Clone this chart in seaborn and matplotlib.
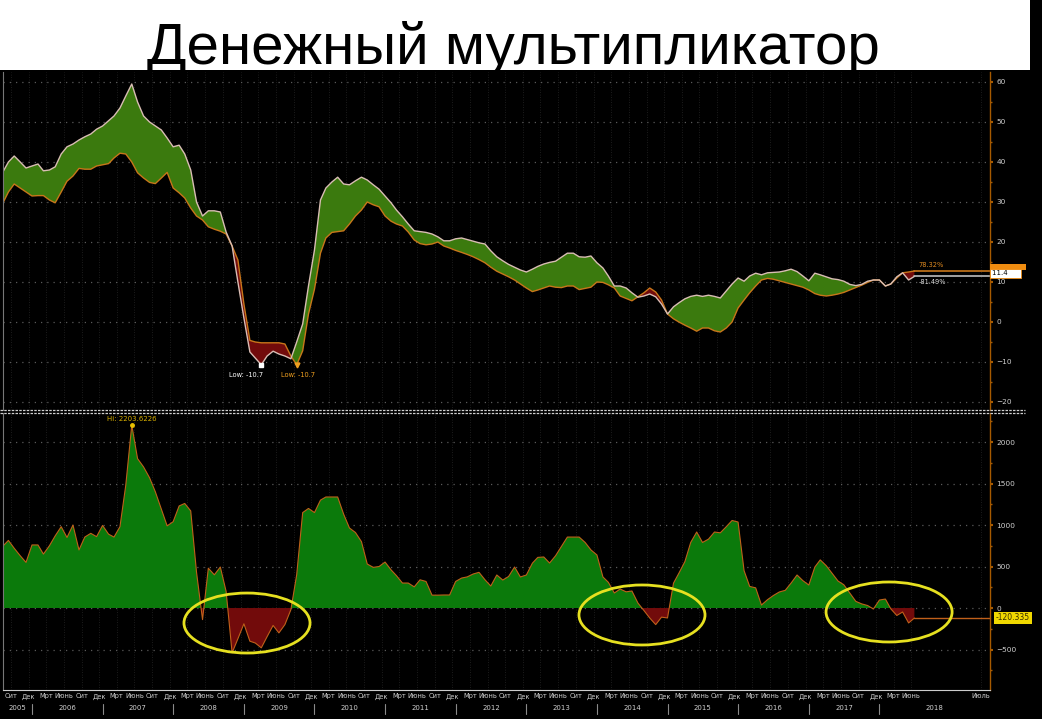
import numpy as np
import pandas as pd
import seaborn as sns
import matplotlib.pyplot as plt
import matplotlib.dates as mdates
import matplotlib.transforms as mtransforms
from matplotlib.patches import Ellipse, Rectangle
from matplotlib.lines import Line2D

# Данные: помесячно, август 2005 - июль 2018
title = 'Денежный мультипликатор'

# верхняя панель: светлая линия
line_a = [37.3, 40.0, 41.5, 40.0, 38.5,
          39.0, 39.5, 37.8, 38.0, 38.8, 42.0, 43.8, 44.5, 45.5, 46.3, 47.0, 48.2,
          49.0, 50.3, 51.5, 53.5, 56.5, 59.5, 55.0, 51.5, 50.0, 49.0, 48.0, 46.0,
          43.8, 44.2, 42.0, 38.0, 30.0, 26.5, 27.8, 27.8, 27.5, 22.5, 19.0, 10.0,
          1.0, -7.5, -9.0, -10.7, -8.5, -7.3, -8.0, -8.5, -9.2, -5.0, -0.5, 9.0,
          18.0, 30.5, 33.5, 35.0, 36.2, 34.5, 34.3, 35.3, 36.2, 35.5, 34.3, 33.2,
          31.5, 29.8, 28.0, 26.3, 24.5, 22.8, 22.6, 22.4, 22.0, 21.3, 20.3, 20.3,
          20.8, 21.0, 20.6, 20.2, 19.8, 19.5, 17.8, 16.3, 15.3, 14.4, 13.7, 13.0,
          12.5, 13.2, 13.9, 14.5, 14.9, 15.2, 16.2, 17.2, 17.2, 16.3, 16.2, 16.5,
          14.8, 13.5, 11.5, 9.0, 9.0, 8.5, 7.3, 6.2, 6.5, 7.0, 6.3, 4.5,
          2.0, 3.8, 4.8, 5.8, 6.4, 6.7, 6.4, 6.7, 6.4, 6.0, 7.8, 9.5,
          11.0, 10.2, 11.5, 12.2, 11.8, 12.3, 12.4, 12.5, 12.8, 13.2, 12.6, 11.5,
          10.3, 12.2, 11.8, 11.3, 10.8, 10.6, 10.2, 9.4, 9.1, 9.4, 10.2, 10.5,
          10.5, 9.0, 9.5, 11.3, 12.3, 10.5, 11.4]

# верхняя панель: оранжевая линия
line_b = [29.5, 32.5, 34.5, 33.5, 32.5,
          31.5, 31.6, 31.6, 30.5, 29.8, 32.5, 35.2, 36.5, 38.4, 38.2, 38.2, 39.0,
          39.3, 39.6, 41.0, 42.2, 42.0, 40.0, 37.3, 36.0, 34.9, 34.6, 36.0, 37.4,
          33.5, 32.3, 31.0, 28.5, 26.5, 25.5, 23.8, 23.2, 22.7, 22.0, 19.0, 15.5,
          4.5, -4.6, -5.0, -5.2, -5.2, -5.2, -5.2, -5.5, -8.5, -10.7, -7.2, 2.0,
          8.2, 17.2, 21.0, 22.4, 22.6, 22.8, 24.5, 26.5, 28.0, 30.0, 29.3, 28.8,
          26.5, 25.2, 24.5, 24.0, 22.5, 20.5, 19.6, 19.3, 19.5, 20.0, 19.0, 18.5,
          17.9, 17.4, 16.9, 16.3, 15.6, 14.8, 13.7, 12.7, 12.0, 11.3, 10.5, 9.5,
          8.5, 7.6, 8.0, 8.5, 9.0, 8.7, 8.6, 9.0, 9.0, 8.1, 8.4, 8.7,
          10.0, 9.9, 9.3, 8.5, 6.5, 5.9, 5.3, 6.3, 7.3, 8.5, 7.5, 5.5,
          2.0, 0.8, 0.0, -0.8, -1.5, -2.3, -1.5, -1.5, -2.2, -2.5, -1.5, 0.0,
          3.5, 5.5, 7.3, 9.0, 10.5, 10.9, 10.7, 10.3, 9.9, 9.5, 9.1, 8.7,
          8.0, 7.1, 6.7, 6.5, 6.7, 7.0, 7.4, 8.0, 8.6, 9.2, 9.9, 10.5,
          10.5, 9.0, 9.5, 11.0, 12.3, 12.5, 12.75]

# нижняя панель
spread = [740, 815, 720, 630, 550,
          760, 760, 650, 750, 870, 980, 850, 1000, 700, 855, 900, 860,
          995, 890, 855, 980, 1480, 2203.6, 1800, 1700, 1570, 1400, 1190, 990,
          1040, 1230, 1260, 1170, 430, -140, 480, 400, 494, 200, -540, -370,
          -190, -400, -422, -480, -345, -210, -300, -200, -20, 400, 1150, 1200,
          1150, 1300, 1338, 1338, 1338, 1130, 964, 910, 800, 530, 490, 500,
          554, 460, 390, 301, 301, 255, 340, 320, 155, 155, 157, 157,
          320, 361, 375, 410, 430, 340, 265, 398, 337, 380, 494, 374,
          398, 540, 610, 615, 542, 630, 740, 855, 855, 855, 790, 700,
          639, 374, 310, 181, 229, 195, 205, 60, -30, -120, -200, -110,
          -120, 300, 420, 560, 790, 916, 790, 830, 916, 906, 980, 1055,
          1036, 450, 260, 243, 36, 100, 150, 193, 213, 300, 398, 330,
          277, 494, 580, 510, 420, 325, 280, 180, 80, 50, 30, -12,
          96, 108, -10, -90, -48, -180, -120.3]

month_names = {9: 'Сит', 12: 'Дек', 3: 'Мрт', 6: 'Июнь'}
years = list(range(2005, 2019))

# выделенные эллипсами участки: центр (дата, значение)
ellipse_centers = [('2009-01-17', -181), ('2014-08-22', -84), ('2018-02-20', -48)]

dates = pd.date_range('2005-08-01', periods=len(line_a), freq='MS')
a = np.array(line_a)
b = np.array(line_b)
s = np.array(spread)

x_left = pd.Timestamp('2005-08-04')
x_right = pd.Timestamp('2019-07-27')

sns.set_theme(style='dark')
plt.rcParams['font.family'] = ['DejaVu Sans']

W, H = 1042, 719
fig = plt.figure(figsize=(W / 100, H / 100), dpi=100, facecolor='black')


def box(l, t, r, bt):
    return [l / W, 1 - bt / H, (r - l) / W, (bt - t) / H]


# заголовок на белой плашке
tax = fig.add_axes(box(0, 0, 1030, 70))
tax.set_facecolor('white')
tax.set_xticks([])
tax.set_yticks([])
for sp in tax.spines.values():
    sp.set_visible(False)
tax.text(0.498, 0.09, title, ha='center', va='baseline', fontsize=42,
         family='Liberation Sans', color='black', transform=tax.transAxes,
         clip_on=True)

green_top = '#3b7a0e'
green_bot = '#0b7a0b'
red_fill = '#720b0b'
orange = '#c8761a'
light = '#d9bdb4'
axis_orange = '#a65a00'
txt = '#cfcfcf'

# квартальные метки
tick_dates = [d + pd.Timedelta(days=14) for d in dates if d.month in month_names]
tick_labels = [month_names[d.month] for d in dates if d.month in month_names]
tick_dates.append(pd.Timestamp('2019-06-10'))
tick_labels.append('Июль')


def style_axis(ax):
    ax.set_facecolor('black')
    ax.set_xlim(x_left, x_right)
    ax.yaxis.tick_right()
    ax.set_xticks(tick_dates)
    ax.xaxis.grid(True, color='#262626', ls=(0, (1, 2)), lw=0.6)
    ax.yaxis.grid(True, color='#5a5a5a', ls=(0, (1, 4)), lw=0.9)
    ax.tick_params(axis='y', which='both', colors=axis_orange, labelcolor=txt,
                   labelsize=5.3, length=2.5, width=1.5, pad=2)
    ax.tick_params(axis='y', which='minor', length=1.5, width=1)
    ax.tick_params(axis='x', length=0)
    ax.spines['top'].set_visible(False)
    ax.spines['right'].set_color(axis_orange)
    ax.spines['right'].set_linewidth(1)
    ax.spines['left'].set_color('#777777')
    ax.spines['left'].set_linewidth(0.8)
    ax.set_xlabel('')
    ax.set_ylabel('')


# ---- верхняя панель ----
ax1 = fig.add_axes(box(3, 72, 990, 410))
ax1.fill_between(dates, a, b, where=a >= b, interpolate=True, color=green_top, lw=0)
ax1.fill_between(dates, a, b, where=a < b, interpolate=True, color=red_fill, lw=0)
sns.lineplot(x=dates, y=line_b, ax=ax1, color=orange, lw=1.0)
sns.lineplot(x=dates, y=line_a, ax=ax1, color=light, lw=1.0)
style_axis(ax1)
ax1.set_ylim(-22, 62.5)
ax1.set_yticks(range(-20, 61, 10))
ax1.set_yticks(range(-15, 60, 10), minor=True)
ax1.set_xticklabels([])
ax1.spines['bottom'].set_visible(False)

# минимумы
ia, ib = int(np.argmin(a)), int(np.argmin(b))
ax1.plot(dates[ia], a[ia], 's', color='white', ms=3)
ax1.plot(dates[ib], b[ib], 'v', color='#f0a020', ms=3.5)
ax1.annotate(f'Low: {a[ia]:.1f}', (dates[ia], a[ia]), xytext=(1, -9),
             textcoords='offset points', ha='right', color='white', fontsize=4.8)
ax1.annotate(f'Low: {b[ib]:.1f}', (dates[ib], b[ib]), xytext=(-11, -9),
             textcoords='offset points', ha='left', color='#f0a020', fontsize=4.8)

# продолжение последних значений до оси
ax1.plot([dates[-1], x_right], [b[-1], b[-1]], color=orange, lw=1.2, clip_on=False)
ax1.plot([dates[-1], x_right], [a[-1], a[-1]], color='#bdbdbd', lw=1.2, clip_on=False)
ax1.annotate('78.32%', (dates[-1], b[-1]), xytext=(3, 2), textcoords='offset points',
             color='#e08a20', fontsize=4.8, va='bottom')
ax1.annotate('-81.49%', (dates[-1], a[-1]), xytext=(3, -2), textcoords='offset points',
             color='#dddddd', fontsize=4.8, va='top')
yt1 = mtransforms.blended_transform_factory(ax1.transAxes, ax1.transData)
# оранжевая плашка последнего значения, почти скрытая под белой
ax1.add_patch(Rectangle((1.0, a[-1] + 1.7), 0.036, 1.5, transform=yt1,
                        fc='#f08c10', ec='none', clip_on=False, zorder=5))
ax1.text(1.002, a[-1] + 0.75, f'{a[-1]:.1f}     ', transform=yt1, fontsize=5,
         color='black', va='center', ha='left', zorder=6,
         bbox=dict(boxstyle='square,pad=0.25', fc='white', ec='#f08c10', lw=0.6))

# ---- нижняя панель ----
ax2 = fig.add_axes(box(3, 413, 990, 690))
ax2.fill_between(dates, s, 0, where=s >= 0, interpolate=True, color=green_bot, lw=0)
ax2.fill_between(dates, s, 0, where=s < 0, interpolate=True, color=red_fill, lw=0)
sns.lineplot(x=dates, y=spread, ax=ax2, color='#c0601a', lw=0.8)
style_axis(ax2)
ax2.set_ylim(-988, 2350)
ax2.set_yticks(range(-500, 2001, 500))
ax2.set_yticks(range(-750, 2300, 500), minor=True)
ax2.set_xticklabels(tick_labels, fontsize=4.8, color=txt)
ax2.tick_params(axis='x', pad=2.5)
ax2.spines['bottom'].set_color('#cccccc')
ax2.spines['bottom'].set_linestyle((0, (3, 1)))
ax2.spines['bottom'].set_linewidth(0.8)

# максимум
im = int(np.argmax(s))
ax2.plot(dates[im], s[im], 'o', color='#e8c000', ms=2.5)
ax2.annotate('Hi: 2203.6226', (dates[im], s[im]),
             xytext=(0, 3), textcoords='offset points', ha='center',
             color='#d8b000', fontsize=5)

# последнее значение
ax2.plot([dates[-1], x_right], [s[-1], s[-1]], color='#c0601a', lw=1, clip_on=False)
yt2 = mtransforms.blended_transform_factory(ax2.transAxes, ax2.transData)
ax2.text(1.006, s[-1], '-120.335', transform=yt2, fontsize=5.5, color='#3a3000',
         va='center', ha='left', zorder=5,
         bbox=dict(boxstyle='square,pad=0.25', fc='#f0d800', ec='none'))

# эллипсы
for cd, cv in ellipse_centers:
    ax2.add_patch(Ellipse((mdates.date2num(pd.Timestamp(cd)), cv), width=652.0,
                          height=723, fill=False, ec='#e6e020', lw=2, zorder=6))

# подписи годов
xt2 = mtransforms.blended_transform_factory(ax2.transData, ax2.transAxes)
for y in years:
    start = max(pd.Timestamp(f'{y}-01-01'), x_left)
    end = pd.Timestamp(f'{y + 1}-01-01') if y < years[-1] else x_right
    mid = start + (end - start) / 2
    ax2.text(mid, -0.065, str(y), transform=xt2, ha='center', va='center',
             fontsize=5, color=txt, clip_on=False)
    if y > years[0]:
        ax2.plot([start, start], [-0.05, -0.085], transform=xt2, color='#8a8a8a',
                 lw=0.8, clip_on=False)

# разделитель панелей
for yy in (409.5, 412.5):
    fig.add_artist(Line2D([0, 1025 / W], [1 - yy / H] * 2, color='#d0d0d0',
                          lw=0.9, ls=(0, (2, 1))))

fig.savefig('out.png', dpi=100, facecolor='black')
